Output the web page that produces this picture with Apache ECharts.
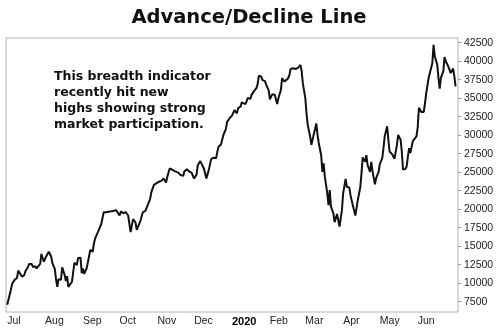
<!DOCTYPE html>
<html><head><meta charset="utf-8">
<script src="https://cdn.jsdelivr.net/npm/echarts@6/dist/echarts.min.js"></script>
<style>html,body{margin:0;padding:0;background:#fff}#c{width:498px;height:331px}</style>
</head><body><div id="c"></div>
<script>
const titleText = 'Advance/Decline Line';
const noteLines = ['This breadth indicator', 'recently hit new', 'highs showing strong', 'market participation.'];

const dates = [
'2019-07-01','2019-07-02','2019-07-04','2019-07-05','2019-07-07','2019-07-09','2019-07-10','2019-07-11','2019-07-13','2019-07-15',
'2019-07-16','2019-07-18','2019-07-19','2019-07-21','2019-07-22','2019-07-24','2019-07-25','2019-07-26','2019-07-28','2019-07-29',
'2019-07-31','2019-08-02','2019-08-03','2019-08-04','2019-08-06','2019-08-07','2019-08-09','2019-08-10','2019-08-11','2019-08-12',
'2019-08-14','2019-08-15','2019-08-17','2019-08-18','2019-08-19','2019-08-20','2019-08-21','2019-08-23','2019-08-25','2019-08-26',
'2019-08-27','2019-08-28','2019-08-30','2019-08-31','2019-09-01','2019-09-02','2019-09-04','2019-09-06','2019-09-07','2019-09-09',
'2019-09-10','2019-09-11','2019-09-14','2019-09-16','2019-09-17','2019-09-18','2019-09-20','2019-09-23','2019-09-26','2019-09-28',
'2019-09-29','2019-10-01','2019-10-02','2019-10-04','2019-10-06','2019-10-08','2019-10-10','2019-10-12','2019-10-14','2019-10-15',
'2019-10-18','2019-10-20','2019-10-22','2019-10-24','2019-10-26','2019-10-27','2019-10-29','2019-10-31','2019-11-02','2019-11-04',
'2019-11-06','2019-11-08','2019-11-09','2019-11-11','2019-11-13','2019-11-15','2019-11-18','2019-11-20','2019-11-22','2019-11-23',
'2019-11-25','2019-11-27','2019-11-29','2019-12-01','2019-12-03','2019-12-04','2019-12-06','2019-12-09','2019-12-11','2019-12-13',
'2019-12-15','2019-12-17','2019-12-19','2019-12-20','2019-12-21','2019-12-23','2019-12-25','2019-12-27','2019-12-28','2019-12-30',
'2020-01-01','2020-01-03','2020-01-05','2020-01-06','2020-01-08','2020-01-09','2020-01-10','2020-01-12','2020-01-13','2020-01-14',
'2020-01-16','2020-01-17','2020-01-19','2020-01-21','2020-01-22','2020-01-23','2020-01-25','2020-01-26','2020-01-28','2020-01-29',
'2020-01-31','2020-02-01','2020-02-03','2020-02-04','2020-02-05','2020-02-07','2020-02-08','2020-02-10','2020-02-11','2020-02-13',
'2020-02-14','2020-02-16','2020-02-17','2020-02-18','2020-02-20','2020-02-22','2020-02-23','2020-02-24','2020-02-26','2020-02-27',
'2020-02-28','2020-03-01','2020-03-02','2020-03-03','2020-03-05','2020-03-06','2020-03-08','2020-03-09','2020-03-10','2020-03-11',
'2020-03-12','2020-03-14','2020-03-15','2020-03-16','2020-03-17','2020-03-19','2020-03-20','2020-03-21','2020-03-22','2020-03-23',
'2020-03-24','2020-03-25','2020-03-27','2020-03-28','2020-03-29','2020-03-31','2020-04-01','2020-04-03','2020-04-04','2020-04-06',
'2020-04-07','2020-04-09','2020-04-10','2020-04-11','2020-04-13','2020-04-15','2020-04-16','2020-04-17','2020-04-19','2020-04-20',
'2020-04-21','2020-04-23','2020-04-24','2020-04-25','2020-04-27','2020-04-28','2020-04-30','2020-05-01','2020-05-03','2020-05-04',
'2020-05-05','2020-05-07','2020-05-08','2020-05-09','2020-05-11','2020-05-12','2020-05-13','2020-05-15','2020-05-16','2020-05-18',
'2020-05-19','2020-05-20','2020-05-22','2020-05-23','2020-05-24','2020-05-25','2020-05-26','2020-05-28','2020-05-29','2020-05-31',
'2020-06-01','2020-06-02','2020-06-04','2020-06-06','2020-06-07','2020-06-08','2020-06-10','2020-06-11','2020-06-13','2020-06-14',
'2020-06-15','2020-06-17','2020-06-18','2020-06-19','2020-06-20','2020-06-22','2020-06-23','2020-06-24','2020-06-26','2020-06-27',
'2020-06-28','2020-06-30','2020-07-01','2020-07-02'
];

const adLine = [
7100,7250,9100,9900,10450,10700,11700,11500,10900,11100,
11650,12200,12600,12600,12200,12300,12000,11800,12600,13950,
12900,13650,13800,14250,13600,12700,11900,10450,9500,10550,
10450,12150,11100,10300,10950,9500,9500,10200,12750,12900,
12450,13400,13450,11350,12000,11250,12000,13650,14500,14250,
15400,16050,17200,18000,18800,19600,19600,19700,19750,19900,
20100,19150,19700,19450,19600,19150,16900,18650,18200,17200,
18400,19600,19750,20550,21400,22300,23250,23500,23700,23800,
24150,23600,24350,25500,25350,25150,24950,24600,24500,25100,
25400,25100,24900,24150,24700,25950,26500,25500,24150,25300,
26800,26950,26900,27750,28450,28750,30050,30850,31800,32300,
32650,33400,32950,33650,33850,34450,34450,34200,34600,35050,
34900,35450,35950,36350,36900,38050,37900,37450,37300,36800,
36100,34850,35550,35650,35450,34200,35000,36100,37700,37250,
37000,37700,38150,38950,39050,38950,38800,39100,39500,38700,
37000,35000,32950,31400,29800,28700,30150,30850,31600,30050,
28950,27300,25050,26200,24400,22150,20550,22600,20350,20450,
19450,18250,19350,19150,17650,19900,22150,24100,23000,22950,
21900,20450,20550,19150,21250,22950,24850,27000,26400,27300,
25950,25050,26400,25150,23350,24200,25050,26100,26900,28250,
29850,31200,29400,27800,27450,27600,26800,28700,30050,29400,
27800,25350,25450,25800,27150,28250,27600,29200,29400,29850,
31050,33700,33150,33150,34350,35700,37750,37950,39750,42200,
40650,39550,37750,36300,37750,38650,40550,40000,39300,38850,
38400,39000,37950,36600
];

const monthTickDates = ['2019-07-01','2019-08-01','2019-09-01','2019-10-01','2019-11-01','2019-12-01',
  '2020-01-01','2020-02-01','2020-03-01','2020-04-01','2020-05-01','2020-06-01'];
const monthTickLabels = ['Jul','Aug','Sep','Oct','Nov','Dec','2020','Feb','Mar','Apr','May','Jun'];
const yTickValues = [7500,10000,12500,15000,17500,20000,22500,25000,27500,30000,32500,35000,37500,40000,42500];

const ts = s => Date.UTC(+s.slice(0,4), +s.slice(5,7) - 1, +s.slice(8,10));
const seriesData = dates.map((d, i) => [ts(d), adLine[i]]);
const monthTs = monthTickDates.map(ts);
const labelByTs = {};
monthTs.forEach((t, i) => { labelByTs[t] = monthTickLabels[i]; });

const chart = echarts.init(document.getElementById('c'), null, {renderer: 'canvas'});
chart.setOption({
  animation: false,
  backgroundColor: '#fff',
  graphic: [
    {type: 'text', left: 'center', top: 8, style: {text: titleText, font: 'bold 19.5px "DejaVu Sans"', fill: '#111'}},
    {type: 'text', left: 54, top: 69, style: {text: noteLines.join('\n'), font: 'bold 12.5px "DejaVu Sans"', lineHeight: 16, fill: '#111'}}
  ],
  grid: {left: 6, right: 40, top: 38, bottom: 19, show: true, borderColor: '#b4b4b4', borderWidth: 1, containLabel: false},
  xAxis: {
    type: 'value',
    min: ts('2019-06-30'),
    max: ts('2020-07-04'),
    axisLine: {show: false},
    axisTick: {show: false},
    splitLine: {show: false},
    axisLabel: {
      customValues: monthTs,
      align: 'left',
      margin: 4,
      fontFamily: 'Liberation Sans',
      fontSize: 10.5,
      color: '#222',
      formatter: v => {
        const l = labelByTs[v] || '';
        return l === '2020' ? '{b|' + l + '}' : l;
      },
      rich: {b: {fontWeight: 'bold', fontSize: 11, color: '#000', fontFamily: 'Liberation Sans'}}
    }
  },
  yAxis: {
    type: 'value',
    position: 'right',
    min: 6108,
    max: 43135,
    axisLine: {show: false},
    axisTick: {show: true, length: 3, customValues: yTickValues, lineStyle: {color: '#999'}},
    splitLine: {show: false},
    axisLabel: {customValues: yTickValues, margin: 6, fontFamily: 'Liberation Sans', fontSize: 10.5, color: '#222', formatter: v => String(v)}
  },
  series: [{
    type: 'line',
    data: seriesData,
    showSymbol: false,
    lineStyle: {color: '#111', width: 2},
    itemStyle: {color: '#111'}
  }]
});
</script></body></html>
